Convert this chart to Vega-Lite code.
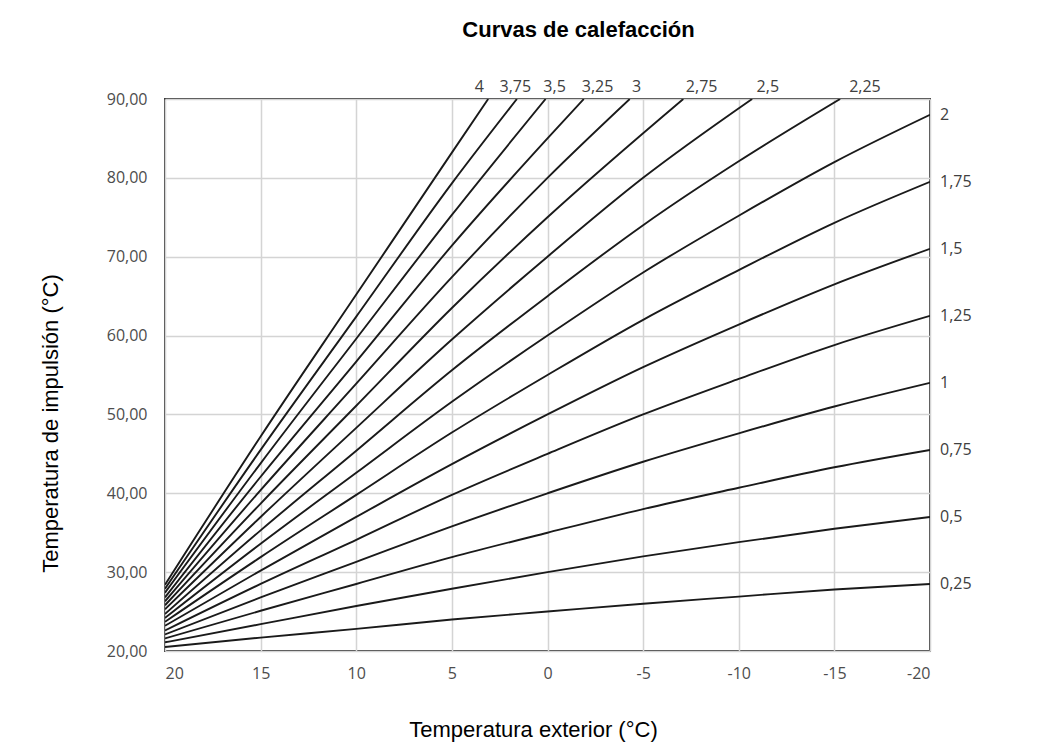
{
  "$schema": "https://vega.github.io/schema/vega-lite/v6.json",
  "width": 765,
  "height": 552,
  "autosize": {"type": "none"},
  "padding": {"left": 165, "top": 99, "right": 117, "bottom": 98},
  "background": "white",
  "title": {
    "text": "Curvas de calefacción",
    "font": "Liberation Sans",
    "fontSize": 22,
    "fontWeight": "bold",
    "color": "#000000",
    "anchor": "middle",
    "dx": 31,
    "dy": -37,
    "offset": 0
  },
  "config": {
    "view": {"stroke": "#3a3a3a", "strokeWidth": 2},
    "axis": {
      "grid": true,
      "gridColor": "#d4d4d4",
      "gridWidth": 1.5,
      "domain": false,
      "ticks": false,
      "tickSize": 0,
      "labelFont": "Open Sans",
      "labelFontSize": 16,
      "labelColor": "#4d4d4d",
      "titleFont": "Liberation Sans",
      "titleFontSize": 22,
      "titleFontWeight": "normal",
      "titleColor": "#000000"
    }
  },
  "datasets": {
    "curvas": [
      {"pendiente": "0,25", "t_ext": 20, "t_imp": 20.5},
      {"pendiente": "0,25", "t_ext": 15, "t_imp": 21.7},
      {"pendiente": "0,25", "t_ext": 10, "t_imp": 22.8},
      {"pendiente": "0,25", "t_ext": 5, "t_imp": 24.0},
      {"pendiente": "0,25", "t_ext": 0, "t_imp": 25.0},
      {"pendiente": "0,25", "t_ext": -5, "t_imp": 26.0},
      {"pendiente": "0,25", "t_ext": -10, "t_imp": 26.9},
      {"pendiente": "0,25", "t_ext": -15, "t_imp": 27.8},
      {"pendiente": "0,25", "t_ext": -20, "t_imp": 28.5},
      {"pendiente": "0,5", "t_ext": 20, "t_imp": 21.1},
      {"pendiente": "0,5", "t_ext": 15, "t_imp": 23.4},
      {"pendiente": "0,5", "t_ext": 10, "t_imp": 25.7},
      {"pendiente": "0,5", "t_ext": 5, "t_imp": 27.9},
      {"pendiente": "0,5", "t_ext": 0, "t_imp": 30.0},
      {"pendiente": "0,5", "t_ext": -5, "t_imp": 32.0},
      {"pendiente": "0,5", "t_ext": -10, "t_imp": 33.8},
      {"pendiente": "0,5", "t_ext": -15, "t_imp": 35.5},
      {"pendiente": "0,5", "t_ext": -20, "t_imp": 37.0},
      {"pendiente": "0,75", "t_ext": 20, "t_imp": 21.6},
      {"pendiente": "0,75", "t_ext": 15, "t_imp": 25.1},
      {"pendiente": "0,75", "t_ext": 10, "t_imp": 28.5},
      {"pendiente": "0,75", "t_ext": 5, "t_imp": 31.9},
      {"pendiente": "0,75", "t_ext": 0, "t_imp": 35.0},
      {"pendiente": "0,75", "t_ext": -5, "t_imp": 38.0},
      {"pendiente": "0,75", "t_ext": -10, "t_imp": 40.7},
      {"pendiente": "0,75", "t_ext": -15, "t_imp": 43.3},
      {"pendiente": "0,75", "t_ext": -20, "t_imp": 45.5},
      {"pendiente": "1", "t_ext": 20, "t_imp": 22.1},
      {"pendiente": "1", "t_ext": 15, "t_imp": 26.8},
      {"pendiente": "1", "t_ext": 10, "t_imp": 31.3},
      {"pendiente": "1", "t_ext": 5, "t_imp": 35.8},
      {"pendiente": "1", "t_ext": 0, "t_imp": 40.0},
      {"pendiente": "1", "t_ext": -5, "t_imp": 44.0},
      {"pendiente": "1", "t_ext": -10, "t_imp": 47.6},
      {"pendiente": "1", "t_ext": -15, "t_imp": 51.0},
      {"pendiente": "1", "t_ext": -20, "t_imp": 54.0},
      {"pendiente": "1,25", "t_ext": 20, "t_imp": 22.6},
      {"pendiente": "1,25", "t_ext": 15, "t_imp": 28.5},
      {"pendiente": "1,25", "t_ext": 10, "t_imp": 34.1},
      {"pendiente": "1,25", "t_ext": 5, "t_imp": 39.8},
      {"pendiente": "1,25", "t_ext": 0, "t_imp": 45.0},
      {"pendiente": "1,25", "t_ext": -5, "t_imp": 50.0},
      {"pendiente": "1,25", "t_ext": -10, "t_imp": 54.5},
      {"pendiente": "1,25", "t_ext": -15, "t_imp": 58.8},
      {"pendiente": "1,25", "t_ext": -20, "t_imp": 62.5},
      {"pendiente": "1,5", "t_ext": 20, "t_imp": 23.2},
      {"pendiente": "1,5", "t_ext": 15, "t_imp": 30.2},
      {"pendiente": "1,5", "t_ext": 10, "t_imp": 37.0},
      {"pendiente": "1,5", "t_ext": 5, "t_imp": 43.7},
      {"pendiente": "1,5", "t_ext": 0, "t_imp": 50.0},
      {"pendiente": "1,5", "t_ext": -5, "t_imp": 56.0},
      {"pendiente": "1,5", "t_ext": -10, "t_imp": 61.4},
      {"pendiente": "1,5", "t_ext": -15, "t_imp": 66.5},
      {"pendiente": "1,5", "t_ext": -20, "t_imp": 71.0},
      {"pendiente": "1,75", "t_ext": 20, "t_imp": 23.7},
      {"pendiente": "1,75", "t_ext": 15, "t_imp": 31.9},
      {"pendiente": "1,75", "t_ext": 10, "t_imp": 39.8},
      {"pendiente": "1,75", "t_ext": 5, "t_imp": 47.7},
      {"pendiente": "1,75", "t_ext": 0, "t_imp": 55.0},
      {"pendiente": "1,75", "t_ext": -5, "t_imp": 62.0},
      {"pendiente": "1,75", "t_ext": -10, "t_imp": 68.3},
      {"pendiente": "1,75", "t_ext": -15, "t_imp": 74.3},
      {"pendiente": "1,75", "t_ext": -20, "t_imp": 79.5},
      {"pendiente": "2", "t_ext": 20, "t_imp": 24.2},
      {"pendiente": "2", "t_ext": 15, "t_imp": 33.6},
      {"pendiente": "2", "t_ext": 10, "t_imp": 42.6},
      {"pendiente": "2", "t_ext": 5, "t_imp": 51.6},
      {"pendiente": "2", "t_ext": 0, "t_imp": 60.0},
      {"pendiente": "2", "t_ext": -5, "t_imp": 68.0},
      {"pendiente": "2", "t_ext": -10, "t_imp": 75.2},
      {"pendiente": "2", "t_ext": -15, "t_imp": 82.0},
      {"pendiente": "2", "t_ext": -20, "t_imp": 88.0},
      {"pendiente": "2,25", "t_ext": 20, "t_imp": 24.7},
      {"pendiente": "2,25", "t_ext": 15, "t_imp": 35.3},
      {"pendiente": "2,25", "t_ext": 10, "t_imp": 45.4},
      {"pendiente": "2,25", "t_ext": 5, "t_imp": 55.6},
      {"pendiente": "2,25", "t_ext": 0, "t_imp": 65.0},
      {"pendiente": "2,25", "t_ext": -5, "t_imp": 74.0},
      {"pendiente": "2,25", "t_ext": -10, "t_imp": 82.1},
      {"pendiente": "2,25", "t_ext": -15.3, "t_imp": 90.0},
      {"pendiente": "2,5", "t_ext": 20, "t_imp": 25.3},
      {"pendiente": "2,5", "t_ext": 15, "t_imp": 37.0},
      {"pendiente": "2,5", "t_ext": 10, "t_imp": 48.3},
      {"pendiente": "2,5", "t_ext": 5, "t_imp": 59.5},
      {"pendiente": "2,5", "t_ext": 0, "t_imp": 70.0},
      {"pendiente": "2,5", "t_ext": -5, "t_imp": 80.0},
      {"pendiente": "2,5", "t_ext": -10.7, "t_imp": 90.0},
      {"pendiente": "2,75", "t_ext": 20, "t_imp": 25.8},
      {"pendiente": "2,75", "t_ext": 15, "t_imp": 38.7},
      {"pendiente": "2,75", "t_ext": 10, "t_imp": 51.1},
      {"pendiente": "2,75", "t_ext": 5, "t_imp": 63.5},
      {"pendiente": "2,75", "t_ext": 0, "t_imp": 75.0},
      {"pendiente": "2,75", "t_ext": -7.1, "t_imp": 90.0},
      {"pendiente": "3", "t_ext": 20, "t_imp": 26.3},
      {"pendiente": "3", "t_ext": 15, "t_imp": 40.4},
      {"pendiente": "3", "t_ext": 10, "t_imp": 53.9},
      {"pendiente": "3", "t_ext": 5, "t_imp": 67.4},
      {"pendiente": "3", "t_ext": 0, "t_imp": 80.0},
      {"pendiente": "3", "t_ext": -4.3, "t_imp": 90.0},
      {"pendiente": "3,25", "t_ext": 20, "t_imp": 26.8},
      {"pendiente": "3,25", "t_ext": 15, "t_imp": 42.1},
      {"pendiente": "3,25", "t_ext": 10, "t_imp": 56.7},
      {"pendiente": "3,25", "t_ext": 5, "t_imp": 71.4},
      {"pendiente": "3,25", "t_ext": 0, "t_imp": 85.0},
      {"pendiente": "3,25", "t_ext": -1.9, "t_imp": 90.0},
      {"pendiente": "3,5", "t_ext": 20, "t_imp": 27.4},
      {"pendiente": "3,5", "t_ext": 15, "t_imp": 43.8},
      {"pendiente": "3,5", "t_ext": 10, "t_imp": 59.6},
      {"pendiente": "3,5", "t_ext": 5, "t_imp": 75.3},
      {"pendiente": "3,5", "t_ext": 0.1, "t_imp": 90.0},
      {"pendiente": "3,75", "t_ext": 20, "t_imp": 27.9},
      {"pendiente": "3,75", "t_ext": 15, "t_imp": 45.5},
      {"pendiente": "3,75", "t_ext": 10, "t_imp": 62.4},
      {"pendiente": "3,75", "t_ext": 5, "t_imp": 79.3},
      {"pendiente": "3,75", "t_ext": 1.6, "t_imp": 90.0},
      {"pendiente": "4", "t_ext": 20, "t_imp": 28.4},
      {"pendiente": "4", "t_ext": 15, "t_imp": 47.2},
      {"pendiente": "4", "t_ext": 10, "t_imp": 65.2},
      {"pendiente": "4", "t_ext": 5, "t_imp": 83.2},
      {"pendiente": "4", "t_ext": 3.1, "t_imp": 90.0}
    ],
    "etiquetas_sup": [
      {"etiqueta": "4", "t_ext": 3.56, "t_imp": 90},
      {"etiqueta": "3,75", "t_ext": 1.68, "t_imp": 90},
      {"etiqueta": "3,5", "t_ext": -0.37, "t_imp": 90},
      {"etiqueta": "3,25", "t_ext": -2.62, "t_imp": 90},
      {"etiqueta": "3", "t_ext": -4.66, "t_imp": 90},
      {"etiqueta": "2,75", "t_ext": -8.06, "t_imp": 90},
      {"etiqueta": "2,5", "t_ext": -11.52, "t_imp": 90},
      {"etiqueta": "2,25", "t_ext": -16.6, "t_imp": 90}
    ],
    "etiquetas_der": [
      {"etiqueta": "2", "t_ext": -20, "t_imp": 88.0},
      {"etiqueta": "1,75", "t_ext": -20, "t_imp": 79.5},
      {"etiqueta": "1,5", "t_ext": -20, "t_imp": 71.0},
      {"etiqueta": "1,25", "t_ext": -20, "t_imp": 62.5},
      {"etiqueta": "1", "t_ext": -20, "t_imp": 54.0},
      {"etiqueta": "0,75", "t_ext": -20, "t_imp": 45.5},
      {"etiqueta": "0,5", "t_ext": -20, "t_imp": 37.0},
      {"etiqueta": "0,25", "t_ext": -20, "t_imp": 28.5}
    ]
  },
  "encoding": {
    "x": {
      "field": "t_ext",
      "type": "quantitative",
      "scale": {"domain": [-20, 20], "reverse": true, "nice": false, "zero": false},
      "axis": {
        "values": [20, 15, 10, 5, 0, -5, -10, -15, -20],
        "labelExpr": "datum.value < 0 ? '-' + abs(datum.value) : '' + datum.value",
        "labelPadding": 14,
        "title": "Temperatura exterior (°C)",
        "titleX": 368,
        "titleY": 85,
        "titleAlign": "center",
        "titleBaseline": "alphabetic"
      }
    },
    "y": {
      "field": "t_imp",
      "type": "quantitative",
      "scale": {"domain": [20, 90], "nice": false, "zero": false},
      "axis": {
        "values": [20, 30, 40, 50, 60, 70, 80, 90],
        "labelExpr": "replace(format(datum.value, '.2f'), '.', ',')",
        "labelPadding": 18,
        "title": "Temperatura de impulsión (°C)",
        "titleX": -108,
        "titleY": 324,
        "titleAngle": -90,
        "titleAlign": "center",
        "titleBaseline": "alphabetic"
      }
    }
  },
  "layer": [
    {
      "data": {"name": "curvas"},
      "mark": {"type": "line", "color": "#1a1a1a", "strokeWidth": 1.9, "interpolate": "monotone", "clip": true},
      "encoding": {
        "detail": {"field": "pendiente", "type": "nominal"}
      }
    },
    {
      "data": {"name": "etiquetas_sup"},
      "mark": {"type": "text", "dy": -12, "align": "center", "baseline": "middle", "font": "Open Sans", "fontSize": 16, "color": "#404040"},
      "encoding": {
        "text": {"field": "etiqueta", "type": "nominal"}
      }
    },
    {
      "data": {"name": "etiquetas_der"},
      "mark": {"type": "text", "dx": 10, "align": "left", "baseline": "middle", "font": "Open Sans", "fontSize": 16, "color": "#404040"},
      "encoding": {
        "text": {"field": "etiqueta", "type": "nominal"}
      }
    }
  ]
}
